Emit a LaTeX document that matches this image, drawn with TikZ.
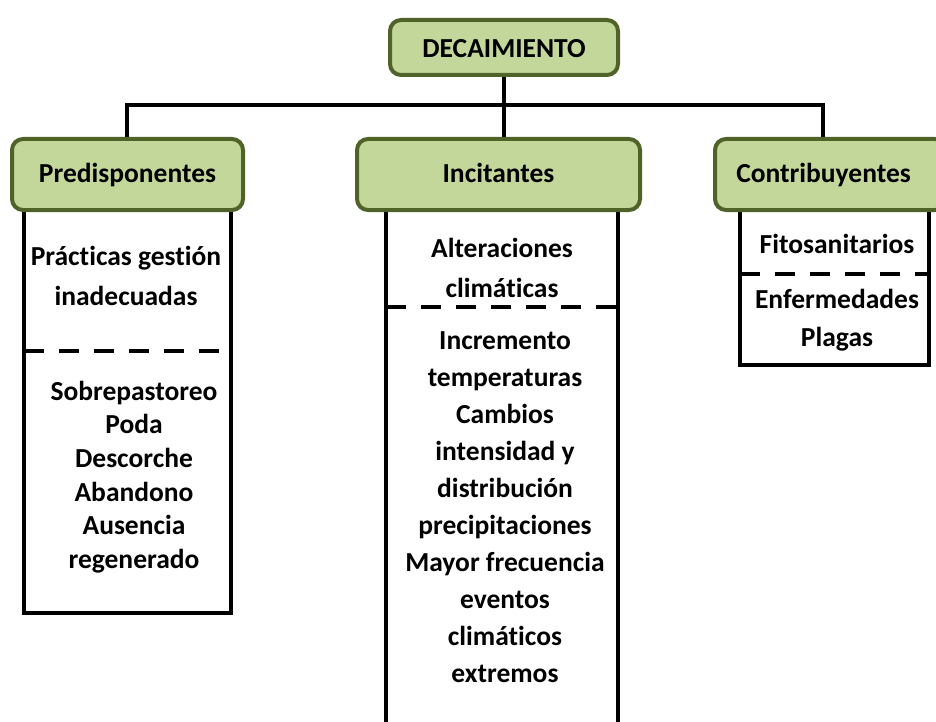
\documentclass[tikz,border=0pt]{standalone}
\usepackage{fontspec}
\setmainfont{Carlito}[Ligatures=NoCommon]
\definecolor{boxfill}{HTML}{C4D79B}
\definecolor{boxline}{HTML}{4F6228}
\begin{document}
\begin{tikzpicture}[x=1pt,y=-1pt,
  header/.style={draw=boxline,fill=boxfill,line width=4pt,rounded corners=11pt,
    inner sep=0pt,text height=19pt,text depth=6pt,font=\fontsize{27.5}{33}\selectfont\bfseries},
  conn/.style={line width=4pt,black},
  sep/.style={line width=4pt,black,dash pattern=on 20pt off 15pt},
  txt/.style={inner sep=0pt,align=center,font=\fontsize{27.5}{#1}\selectfont\bfseries},
  txt/.default=34pt]
\useasboundingbox (0,0) rectangle (936,722);
% sub boxes (drawn first, headers on top)
\draw[conn] (24,200) -- (24,613) -- (231,613) -- (231,200);
\draw[sep] (24,351) -- (231,351);
\draw[conn] (386,200) -- (386,730);
\draw[conn] (618,200) -- (618,730);
\draw[sep] (386,307) -- (618,307);
\draw[conn] (740,200) -- (740,365) -- (929,365) -- (929,200);
\draw[sep] (740,274) -- (929,274);
% headers
\node[header,minimum width=228pt,minimum height=55pt,text height=15pt,text depth=2pt] (dec) at (504,47.5) {\raisebox{-4pt}{DECAIMIENTO}};
\node[header,minimum width=231pt,minimum height=71pt] (pre) at (127.5,174.5) {\raisebox{-1.5pt}{Predisponentes}};
\node[header,minimum width=283pt,minimum height=71pt] (inc) at (498.5,174.5) {\raisebox{-1.5pt}{Incitantes}};
\node[header,minimum width=231pt,minimum height=71pt,text width=231pt,align=center] (con) at (830.5,174.5) {\hspace*{-14pt}\raisebox{-1.5pt}{Contribuyentes}};
% connectors
\coordinate (barL) at (127,105);
\coordinate (barR) at (823,105);
\coordinate (barM) at (504,105);
\draw[conn] (dec.south) -- (barM);
\draw[conn,line cap=rect] (barL) -- (barR);
\draw[conn] (barL) -- (barL |- pre.north);
\draw[conn] (barM) -- (barM |- inc.north);
\draw[conn] (barR) -- (barR |- con.north);
% texts
\node[txt=40pt] (pre1) at (126,276) {Prácticas gestión\\inadecuadas};
\node[txt=33.6pt] (pre2) at (134,477) {Sobrepastoreo\\Poda\\Descorche\\Abandono\\Ausencia\\regenerado};
\node[txt=40pt] (inc1) at (502,268) {Alteraciones\\climáticas};
\node[txt=37pt] (inc2) at (505,507) {Incremento\\temperaturas\\Cambios\\intensidad y\\distribución\\precipitaciones\\Mayor frecuencia\\eventos\\climáticos\\extremos};
\node[txt] (con1) at (837,244) {Fitosanitarios};
\node[txt=38pt] (con2) at (837,320) {Enfermedades\\Plagas};
\end{tikzpicture}
\end{document}
